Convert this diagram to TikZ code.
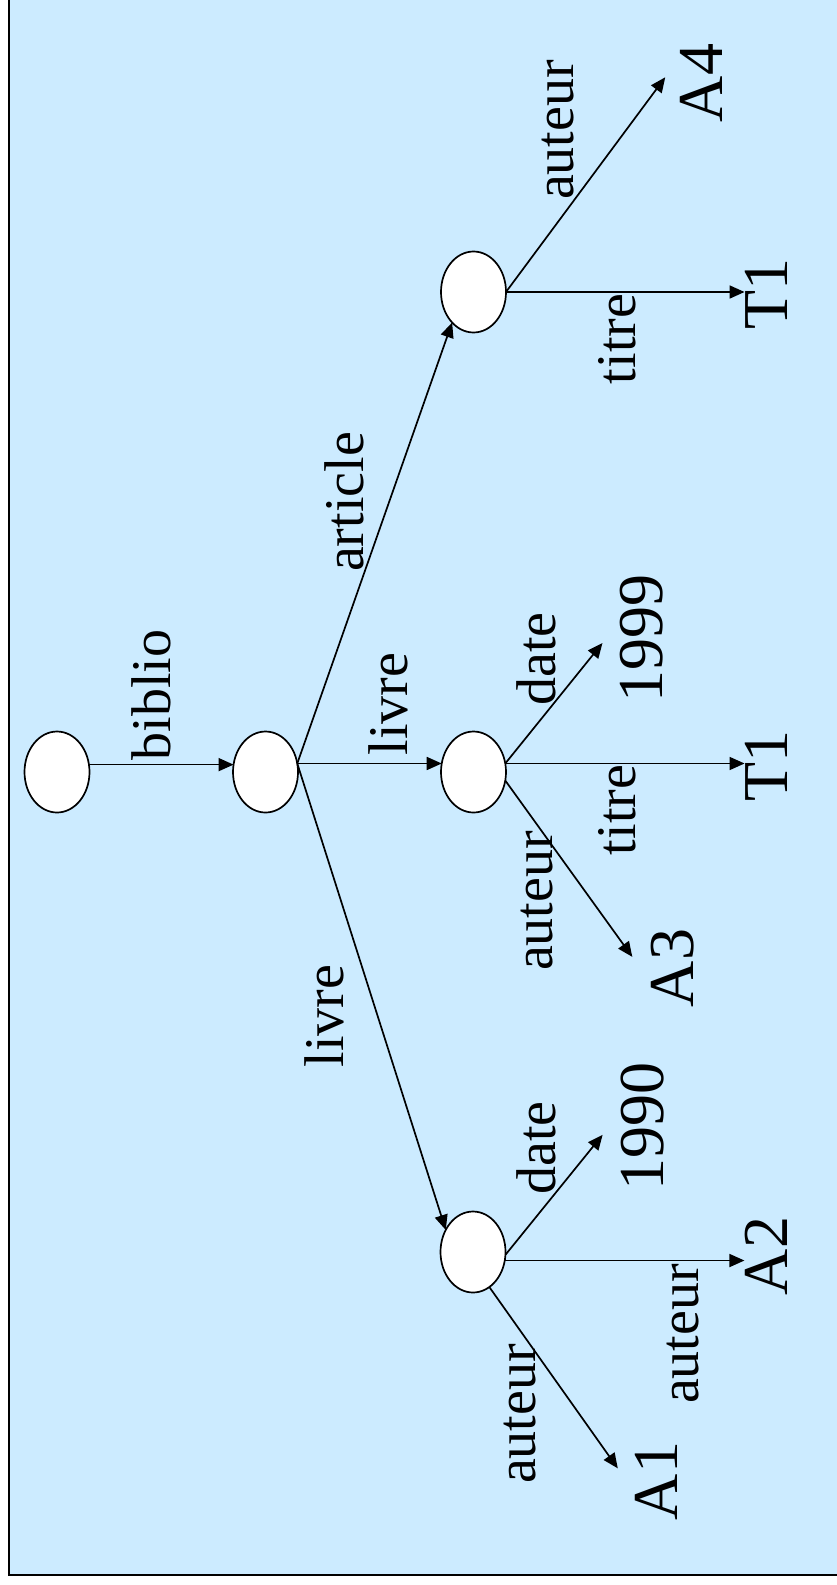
\documentclass[tikz,border=0pt]{standalone}
\usepackage{fontspec}
\setmainfont{Liberation Serif}
\usetikzlibrary{shapes.geometric, arrows.meta}
\definecolor{slideblue}{HTML}{CCEBFF}

\begin{document}
\begin{tikzpicture}[
    x=1pt, y=-1pt,
    obj/.style={draw, ellipse, fill=white, line width=1.7pt, minimum width=65pt, minimum height=81pt, inner sep=0pt, outer sep=0pt},
    lbl/.style={rotate=90, anchor=base, inner sep=0pt, font=\fontsize{56}{60}\selectfont},
    val/.style={rotate=90, anchor=base, inner sep=0pt, font=\fontsize{64}{70}\selectfont},
    arr/.style={-{Triangle[length=15pt, width=13pt]}, line width=1.7pt},
]

\useasboundingbox (0,0) rectangle (837,1585);
\clip (0,0) rectangle (837,1585);
\draw[fill=slideblue, line width=2.5pt] (9,-20) rectangle (860,1575);

% objects
\node[obj] (root) at (57,772) {};
\node[obj] (bib) at (265.5,772) {};
\node[obj] (liv1) at (473.5,772) {};
\node[obj] (art) at (473.5,292) {};
\node[obj] (liv2) at (473,1252) {};

% values
\node[val] (a4) at (722,83) {A4};
\node[val] (t1a) at (787,294) {T1};
\node[val] (y1999) at (662,638) {1999};
\node[val] (t1b) at (787,766) {T1};
\node[val] (a3) at (693,968) {A3};
\node[val] (y1990) at (663,1126) {1990};
\node[val] (a2) at (787,1256) {A2};
\node[val] (a1) at (677,1481) {A1};

% edges
\draw[arr] (root.13) -- (bib.167);
\draw[arr] (bib.15) -- (liv1.165);
\draw[arr] (bib.15) -- (art.235);
\draw[arr] (bib.15) -- (liv2.141);

\draw[arr, shorten >=24pt] (art.east) -- ([yshift=25pt]a4.north);
\draw[arr] (art.east) -- (art.east -| t1a.north);

\draw[arr, shorten >=27pt] (liv1.15) -- ([yshift=16pt]y1999.north);
\draw[arr] (liv1.15) -- (liv1.15 -| t1b.north);
\draw[arr, shorten >=31pt] (liv1.-15) -- ([yshift=-14pt]a3.north);

\draw[arr, shorten >=28pt] (liv2.-5) -- ([yshift=13pt]y1990.north);
\draw[arr] (liv2.-15) -- (liv2.-15 -| a2.north);
\draw[arr, shorten >=29pt] (liv2.-65) -- ([yshift=-11pt]a1.north);

% edge labels
\node[lbl] (lbib) at (170,695) {biblio};
\node[lbl] (lliv1) at (407,704) {livre};
\node[lbl] (lart) at (363,502) {article};
\node[lbl] (lliv2) at (343,1016) {livre};

\node[lbl] (laut4) at (573,130) {auteur};
\node[lbl] (ltit1) at (635,339) {titre};

\node[lbl] (ldat9) at (555,659) {date};
\node[lbl] (ltit2) at (635,810) {titre};
\node[lbl] (laut3) at (552,901) {auteur};

\node[lbl] (ldat0) at (555,1148) {date};
\node[lbl] (laut2) at (698,1334) {auteur};
\node[lbl] (laut1) at (535,1414) {auteur};

\end{tikzpicture}
\end{document}
